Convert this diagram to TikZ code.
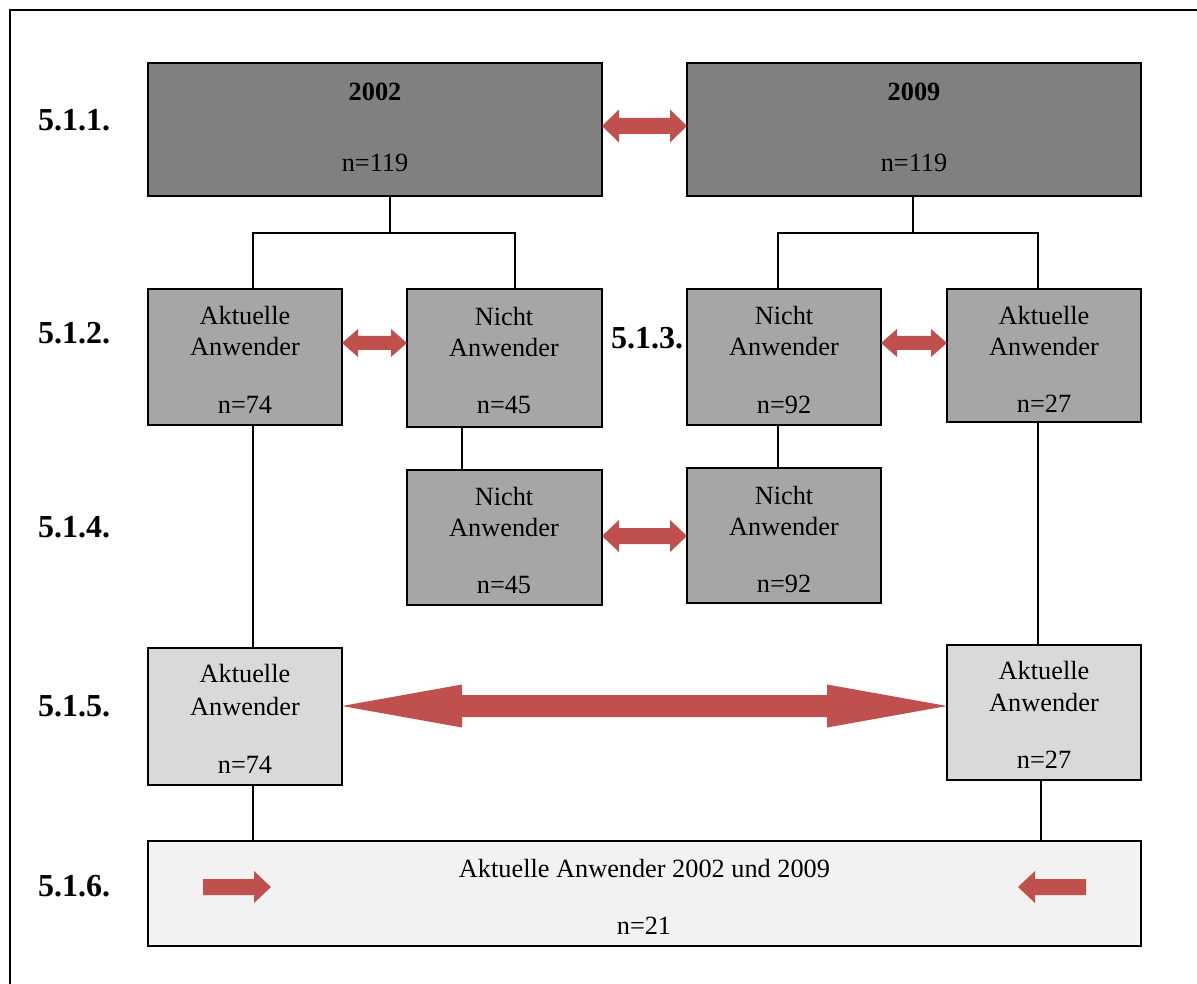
\documentclass[tikz,border=0pt]{standalone}
\usepackage{fontspec}
\setmainfont{Liberation Serif}
\usetikzlibrary{calc}
\definecolor{dk}{HTML}{808080}
\definecolor{md}{HTML}{A6A6A6}
\definecolor{lt}{HTML}{D9D9D9}
\definecolor{vl}{HTML}{F2F2F2}
\definecolor{arrowred}{HTML}{C0504D}
\tikzset{
  box/.style={draw=black,line width=1.5pt,anchor=north west,inner sep=0pt,outer sep=0pt},
  txt/.style={inner sep=0pt,anchor=center,font=\fontsize{26.3}{30}\selectfont},
  lab/.style={inner sep=0pt,anchor=center,font=\fontsize{32}{36}\selectfont\bfseries},
  conn/.style={draw=black,line width=1.3pt},
}
\newcommand\fatarrow[6]{%
  \coordinate (aL) at (#1.east |- 0,#3);
  \coordinate (aR) at (#2.west |- 0,#3);
  \fill[arrowred] (aL) -- ($(aL)+(#4,-#5)$) -- ($(aL)+(#4,-#6)$) -- ($(aR)+(-#4,-#6)$) -- ($(aR)+(-#4,-#5)$) -- (aR)
    -- ($(aR)+(-#4,#5)$) -- ($(aR)+(-#4,#6)$) -- ($(aL)+(#4,#6)$) -- ($(aL)+(#4,#5)$) -- cycle;}
\begin{document}
\begin{tikzpicture}[x=1pt,y=-1pt]
\useasboundingbox (0,0) rectangle (1197,984);
\fill[white] (0,0) rectangle (1197,984);
\draw[line width=2pt] (10,1010) -- (10,10) -- (1220,10);
% row 1
\node[box,fill=dk,minimum width=454pt,minimum height=133pt] (b02) at (148,63) {};
\node[box,fill=dk,minimum width=454pt,minimum height=133pt] (b09) at (687,63) {};
\node[txt,font=\fontsize{26.3}{30}\selectfont\bfseries] (t02a) at (375,92) {2002};
\node[txt] (t02b) at (375,163) {n=119};
\node[txt,font=\fontsize{26.3}{30}\selectfont\bfseries] (t09a) at (914,92) {2009};
\node[txt] (t09b) at (914,163) {n=119};
% row 2
\node[box,fill=md,minimum width=194pt,minimum height=136pt] (a02) at (148,289) {};
\node[box,fill=md,minimum width=195pt,minimum height=138pt] (n02) at (407,289) {};
\node[box,fill=md,minimum width=194pt,minimum height=136pt] (n09) at (687,289) {};
\node[box,fill=md,minimum width=194pt,minimum height=133pt] (a09) at (947,289) {};
\node[txt] (ta02a) at (245,316) {Aktuelle};
\node[txt] (ta02b) at (245,347) {Anwender};
\node[txt] (ta02c) at (245,405) {n=74};
\node[txt] (tn02a) at (504,317) {Nicht};
\node[txt] (tn02b) at (504,348) {Anwender};
\node[txt] (tn02c) at (504,405) {n=45};
\node[txt] (tn09a) at (784,316) {Nicht};
\node[txt] (tn09b) at (784,347) {Anwender};
\node[txt] (tn09c) at (784,405) {n=92};
\node[txt] (ta09a) at (1044,316) {Aktuelle};
\node[txt] (ta09b) at (1044,347) {Anwender};
\node[txt] (ta09c) at (1044,404) {n=27};
% row 4
\node[box,fill=md,minimum width=195pt,minimum height=135pt] (n02b) at (407,470) {};
\node[box,fill=md,minimum width=194pt,minimum height=135pt] (n09b) at (687,468) {};
\node[txt] (tm02a) at (504,497) {Nicht};
\node[txt] (tm02b) at (504,528) {Anwender};
\node[txt] (tm02c) at (504,585) {n=45};
\node[txt] (tm09a) at (784,496) {Nicht};
\node[txt] (tm09b) at (784,527) {Anwender};
\node[txt] (tm09c) at (784,584) {n=92};
% row 5
\node[box,fill=lt,minimum width=194pt,minimum height=137pt] (c02) at (148,648) {};
\node[box,fill=lt,minimum width=194pt,minimum height=135pt] (c09) at (947,645) {};
\node[txt] (tc02a) at (245,674) {Aktuelle};
\node[txt] (tc02b) at (245,706) {Anwender};
\node[txt] (tc02c) at (245,765) {n=74};
\node[txt] (tc09a) at (1044,671) {Aktuelle};
\node[txt] (tc09b) at (1044,703) {Anwender};
\node[txt] (tc09c) at (1044,760) {n=27};
% row 6
\node[box,fill=vl,minimum width=993pt,minimum height=105pt] (all) at (148,841) {};
\node[txt] (tall1) at (644.5,868) {Aktuelle Anwender 2002 und 2009};
\node[txt] (tall2) at (644,926) {n=21};
% labels
\node[lab] (l1) at (74,120) {5.1.1.};
\node[lab] (l2) at (74,333) {5.1.2.};
\node[lab] (l3) at (647,338) {5.1.3.};
\node[lab] (l4) at (74,527) {5.1.4.};
\node[lab] (l5) at (74,706) {5.1.5.};
\node[lab] (l6) at (74,886) {5.1.6.};
% tree connectors
\coordinate (j02) at (390,233);
\coordinate (j09) at (913,233);
\draw[conn] (b02.south -| j02) -- (j02);
\draw[conn] (a02.north -| 253,0) |- (j02) -| (n02.north -| 515,0);
\draw[conn] (b09.south -| j09) -- (j09);
\draw[conn] (n09.north -| 778,0) |- (j09) -| (a09.north -| 1038,0);
\draw[conn] (n02.south -| 462,0) -- (n02b.north -| 462,0);
\draw[conn] (n09.south -| 778,0) -- (n09b.north -| 778,0);
\draw[conn] (a02.south -| 253,0) -- (c02.north -| 253,0);
\draw[conn] (a09.south -| 1038,0) -- (c09.north -| 1038,0);
\draw[conn] (c02.south -| 253,0) -- (all.north -| 253,0);
\draw[conn] (c09.south -| 1041,0) -- (all.north -| 1041,0);
% fat arrows
\fatarrow{b02}{b09}{126}{17}{16.5}{8}
\fatarrow{a02}{n02}{343}{16}{14}{7}
\fatarrow{n09}{a09}{343}{16}{14}{7}
\fatarrow{n02b}{n09b}{536}{17}{16}{8}
\fatarrow{c02}{c09}{706}{120}{21.5}{11}
% small arrows in bottom box
\fill[arrowred] (203,879) -- (254,879) -- (254,871) -- (271,887) -- (254,903) -- (254,895) -- (203,895) -- cycle;
\fill[arrowred] (1086,879) -- (1035,879) -- (1035,871) -- (1018,887) -- (1035,903) -- (1035,895) -- (1086,895) -- cycle;
\end{tikzpicture}
\end{document}
